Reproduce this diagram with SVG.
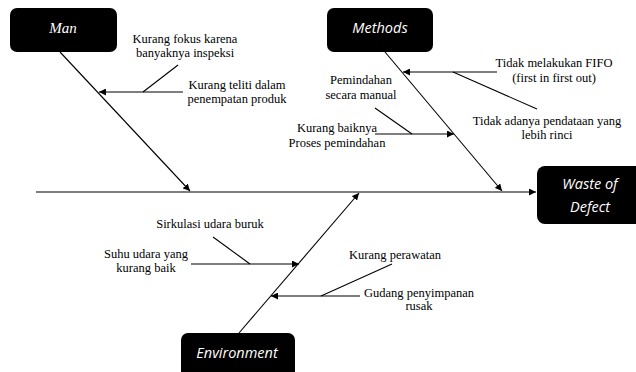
<svg xmlns="http://www.w3.org/2000/svg" width="636" height="372" viewBox="0 0 636 372">
<style>
.box{fill:#000;}
.bl{font-family:"Open Sans","DejaVu Sans",sans-serif;font-style:italic;font-size:14.5px;fill:#fff;text-anchor:middle;}
.blm{font-family:"Liberation Serif","Times New Roman",serif;font-style:italic;font-size:15px;fill:#fff;text-anchor:middle;}
.t{font-family:"Liberation Serif","Times New Roman",serif;font-size:12.5px;fill:#000;text-anchor:middle;}
.ln{stroke:#000;stroke-width:1.1;fill:none;}
.ar{marker-end:url(#ah);}
</style>
<defs>
<marker id="ah" viewBox="0 0 10 10" refX="10" refY="5" markerWidth="7" markerHeight="7" markerUnits="userSpaceOnUse" orient="auto">
<path d="M0,0 L10,5 L0,10 z" fill="#000"/>
</marker>
</defs>
<rect width="636" height="372" fill="#fff"/>
<g id="connectors">
<line class="ln ar" x1="36" y1="192" x2="536" y2="192"/>
<line class="ln ar" x1="60" y1="52" x2="190" y2="191"/>
<line class="ln ar" x1="183" y1="92" x2="99" y2="92"/>
<line class="ln" x1="143" y1="92" x2="178" y2="65"/>
<line class="ln ar" x1="385" y1="52" x2="502" y2="191"/>
<line class="ln ar" x1="497" y1="72" x2="403" y2="72"/>
<line class="ln" x1="453" y1="72" x2="537" y2="109"/>
<line class="ln ar" x1="375" y1="134" x2="454" y2="134"/>
<line class="ln" x1="375" y1="108" x2="412" y2="134"/>
<line class="ln ar" x1="239" y1="333" x2="359" y2="193"/>
<line class="ln ar" x1="191" y1="264" x2="299" y2="264"/>
<line class="ln" x1="213" y1="237" x2="250" y2="264"/>
<line class="ln ar" x1="360" y1="296" x2="271" y2="296"/>
<line class="ln" x1="321" y1="296" x2="392" y2="264"/>
</g>
<g id="man">
<rect class="box" x="10" y="8" width="107" height="44" rx="7"/>
<text class="blm" x="63" y="33">Man</text>
</g>
<g id="methods">
<rect class="box" x="327" y="8" width="106" height="44" rx="7"/>
<text class="bl" x="380" y="33">Methods</text>
</g>
<g id="waste">
<rect class="box" x="537" y="166" width="106" height="58" rx="8"/>
<text class="bl" x="590" y="189">Waste of</text>
<text class="bl" x="590" y="212">Defect</text>
</g>
<g id="environment">
<rect class="box" x="181" y="333" width="114" height="50" rx="7"/>
<text class="bl" x="237" y="358">Environment</text>
</g>
<g id="labels">
<text class="t" x="185" y="43">Kurang fokus karena</text>
<text class="t" x="185" y="57">banyaknya inspeksi</text>
<text class="t" x="237" y="89">Kurang teliti dalam</text>
<text class="t" x="237" y="103">penempatan produk</text>
<text class="t" x="554" y="67">Tidak melakukan FIFO</text>
<text class="t" x="554" y="82">(first in first out)</text>
<text class="t" x="547" y="125">Tidak adanya pendataan yang</text>
<text class="t" x="547" y="139">lebih rinci</text>
<text class="t" x="361" y="84">Pemindahan</text>
<text class="t" x="361" y="99">secara manual</text>
<text class="t" x="337" y="132">Kurang baiknya</text>
<text class="t" x="337" y="147">Proses pemindahan</text>
<text class="t" x="210" y="228">Sirkulasi udara buruk</text>
<text class="t" x="146" y="258">Suhu udara yang</text>
<text class="t" x="146" y="272">kurang baik</text>
<text class="t" x="395" y="259">Kurang perawatan</text>
<text class="t" x="419" y="297">Gudang penyimpanan</text>
<text class="t" x="419" y="310">rusak</text>
</g>
</svg>
